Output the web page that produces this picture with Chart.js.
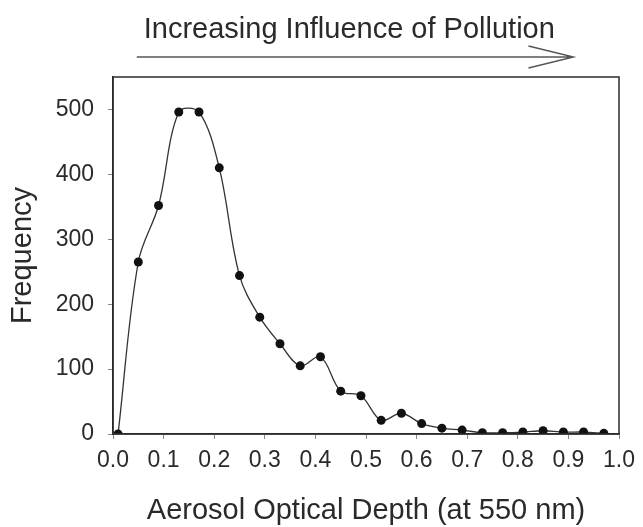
<!DOCTYPE html>
<html>
<head>
<meta charset="utf-8">
<title>Aerosol Optical Depth frequency</title>
<script src="https://cdn.jsdelivr.net/npm/chart.js@4"></script>
<style>
  html, body { margin: 0; padding: 0; background: #fff; }
  #wrap { width: 643px; height: 527px; position: relative; }
</style>
</head>
<body>
<div id="wrap"><canvas id="aod-chart"></canvas></div>
<script>
// AOD bin centres and how many observations fell in each
const aodBins = [0.01, 0.05, 0.09, 0.13, 0.17, 0.21, 0.25, 0.29, 0.33, 0.37, 0.41, 0.45, 0.49,
                 0.53, 0.57, 0.61, 0.65, 0.69, 0.73, 0.77, 0.81, 0.85, 0.89, 0.93, 0.97];
const frequency = [0, 265, 352, 496, 496, 410, 244, 180, 139, 105, 119, 66, 59,
                   21, 32, 16, 9, 6, 2, 2, 3, 5, 3, 3, 1];
const yTicks = [0, 100, 200, 300, 400, 500];
const topLabel = "Increasing Influence of Pollution";

const textColor = "#2a2a2a";
const fontFamily = "'Liberation Sans', Arial, sans-serif";

// box round the plot plus the arrow + label above it
const frameAndArrow = {
  id: "frameAndArrow",
  afterDraw(chart) {
    const { ctx, chartArea: a, scales } = chart;
    ctx.save();
    ctx.strokeStyle = "#2b2b2b";
    ctx.lineWidth = 1.5;
    ctx.strokeRect(a.left, a.top, a.right - a.left, a.bottom - a.top);

    const x0 = scales.x.getPixelForValue(0.047);
    const x1 = scales.x.getPixelForValue(0.91);
    const y = a.top - 20;
    ctx.strokeStyle = "#555";
    ctx.lineWidth = 1.4;
    ctx.beginPath();
    ctx.moveTo(x0, y);
    ctx.lineTo(x1, y);
    ctx.moveTo(x1 - 45, y - 11);
    ctx.lineTo(x1, y);
    ctx.lineTo(x1 - 45, y + 11);
    ctx.stroke();

    ctx.fillStyle = textColor;
    ctx.font = "29px " + fontFamily;
    ctx.textAlign = "center";
    ctx.textBaseline = "alphabetic";
    ctx.fillText(topLabel, scales.x.getPixelForValue(0.467), a.top - 39);
    ctx.restore();
  },
};

new Chart(document.getElementById("aod-chart"), {
  type: "line",
  data: {
    datasets: [
      {
        label: "Frequency",
        data: aodBins.map((x, i) => ({ x: x, y: frequency[i] })),
        borderColor: "#333",
        borderWidth: 1.3,
        tension: 0.35,
        pointRadius: 4.5,
        pointBackgroundColor: "#111",
        pointBorderWidth: 0,
        fill: false,
      },
    ],
  },
  options: {
    responsive: true,
    maintainAspectRatio: false,
    animation: false,
    layout: { padding: { top: 77, right: 18, bottom: 0, left: 0 } },
    plugins: {
      legend: { display: false },
      tooltip: { enabled: false },
    },
    scales: {
      x: {
        type: "linear",
        min: 0,
        max: 1,
        afterFit: (scale) => { scale.height = 93; },
        ticks: {
          stepSize: 0.1,
          padding: 8,
          color: textColor,
          font: { family: fontFamily, size: 23 },
          callback: (v) => v.toFixed(1),
          maxRotation: 0,
        },
        grid: { drawOnChartArea: false, drawTicks: true, tickLength: 5, color: "#888" },
        border: { display: true, color: "#2b2b2b", width: 1.5 },
        title: {
          display: true,
          text: "Aerosol Optical Depth (at 550 nm)",
          color: textColor,
          font: { family: fontFamily, size: 29, lineHeight: 1.1 },
          padding: { top: 0, bottom: 0 },
        },
      },
      y: {
        min: 0,
        max: 550,
        afterFit: (scale) => { scale.width = 113; },
        afterBuildTicks: (scale) => {
          scale.ticks = yTicks.map((v) => ({ value: v }));
        },
        ticks: {
          padding: 14,
          color: textColor,
          font: { family: fontFamily, size: 23 },
        },
        grid: { drawOnChartArea: false, drawTicks: true, tickLength: 5, color: "#888" },
        border: { display: true, color: "#2b2b2b", width: 1.5 },
        title: {
          display: true,
          text: "Frequency",
          color: textColor,
          font: { family: fontFamily, size: 29, lineHeight: 1.1 },
          padding: { top: 7, bottom: 0 },
        },
      },
    },
  },
  plugins: [frameAndArrow],
});
</script>
</body>
</html>
